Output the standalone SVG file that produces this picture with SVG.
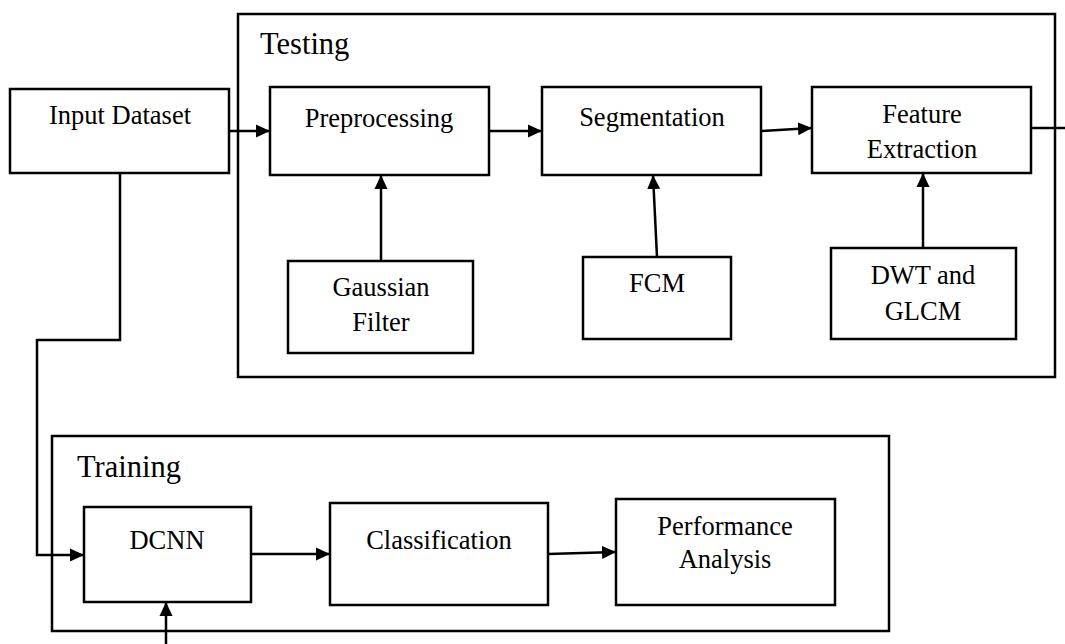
<svg xmlns="http://www.w3.org/2000/svg" width="1065" height="644" viewBox="0 0 1065 644">
<defs>
<style>
.box{fill:#fff;stroke:#000;stroke-width:2.5}
.frame{fill:none;stroke:#000;stroke-width:2.5}
.lbl{font-family:"Liberation Serif","Times New Roman",serif;font-size:26.5px;fill:#000;text-anchor:middle}
.title{font-family:"Liberation Serif","Times New Roman",serif;font-size:30.5px;fill:#000}
.ln{fill:none;stroke:#000;stroke-width:2.5}
</style>
<marker id="arr" viewBox="0 0 14 14" refX="14" refY="7" markerWidth="14" markerHeight="14" markerUnits="userSpaceOnUse" orient="auto">
<path d="M0,0.5 L14,7 L0,13.5 Z" fill="#000"/>
</marker>
</defs>
<rect width="1065" height="644" fill="#fff"/>
<g id="testing">
<rect class="frame" x="238" y="14" width="817" height="363"/>
<text class="title" x="260" y="54">Testing</text>
</g>
<g id="training">
<rect class="frame" x="52" y="436" width="837" height="195"/>
<text class="title" x="77" y="477">Training</text>
</g>
<g id="input-dataset">
<rect class="box" x="10" y="89" width="219" height="84"/>
<text class="lbl" x="120" y="124">Input Dataset</text>
</g>
<g id="preprocessing">
<rect class="box" x="270" y="87" width="219" height="88"/>
<text class="lbl" x="379" y="127">Preprocessing</text>
</g>
<g id="segmentation">
<rect class="box" x="542" y="87" width="219" height="88"/>
<text class="lbl" x="652" y="126">Segmentation</text>
</g>
<g id="feature-extraction">
<rect class="box" x="812" y="87" width="219" height="86"/>
<text class="lbl" x="922" y="123">Feature</text>
<text class="lbl" x="922" y="158">Extraction</text>
</g>
<g id="gaussian-filter">
<rect class="box" x="288" y="261" width="185" height="92"/>
<text class="lbl" x="381" y="296">Gaussian</text>
<text class="lbl" x="381" y="331">Filter</text>
</g>
<g id="fcm">
<rect class="box" x="583" y="257" width="148" height="82"/>
<text class="lbl" x="657" y="292">FCM</text>
</g>
<g id="dwt-glcm">
<rect class="box" x="831" y="248" width="185" height="91"/>
<text class="lbl" x="923" y="284">DWT and</text>
<text class="lbl" x="923" y="320">GLCM</text>
</g>
<g id="dcnn">
<rect class="box" x="84" y="507" width="167" height="95"/>
<text class="lbl" x="167" y="549">DCNN</text>
</g>
<g id="classification">
<rect class="box" x="330" y="503" width="218" height="102"/>
<text class="lbl" x="439" y="549">Classification</text>
</g>
<g id="performance-analysis">
<rect class="box" x="616" y="499" width="219" height="106"/>
<text class="lbl" x="725" y="535">Performance</text>
<text class="lbl" x="725" y="568">Analysis</text>
</g>
<g id="connectors">
<path class="ln" d="M229,131 L270,131" marker-end="url(#arr)"/>
<path class="ln" d="M489,131 L542,131" marker-end="url(#arr)"/>
<path class="ln" d="M761,131 L812,128" marker-end="url(#arr)"/>
<path class="ln" d="M1031,128 L1065,128"/>
<path class="ln" d="M381,261 L381,175" marker-end="url(#arr)"/>
<path class="ln" d="M657,257 L653,175" marker-end="url(#arr)"/>
<path class="ln" d="M923,248 L923,173" marker-end="url(#arr)"/>
<path class="ln" d="M120,173 L120,340 L37,340 L37,555 L84,555" marker-end="url(#arr)"/>
<path class="ln" d="M251,554 L330,554" marker-end="url(#arr)"/>
<path class="ln" d="M548,554 L616,552" marker-end="url(#arr)"/>
<path class="ln" d="M166,644 L166,602" marker-end="url(#arr)"/>
</g>
</svg>
